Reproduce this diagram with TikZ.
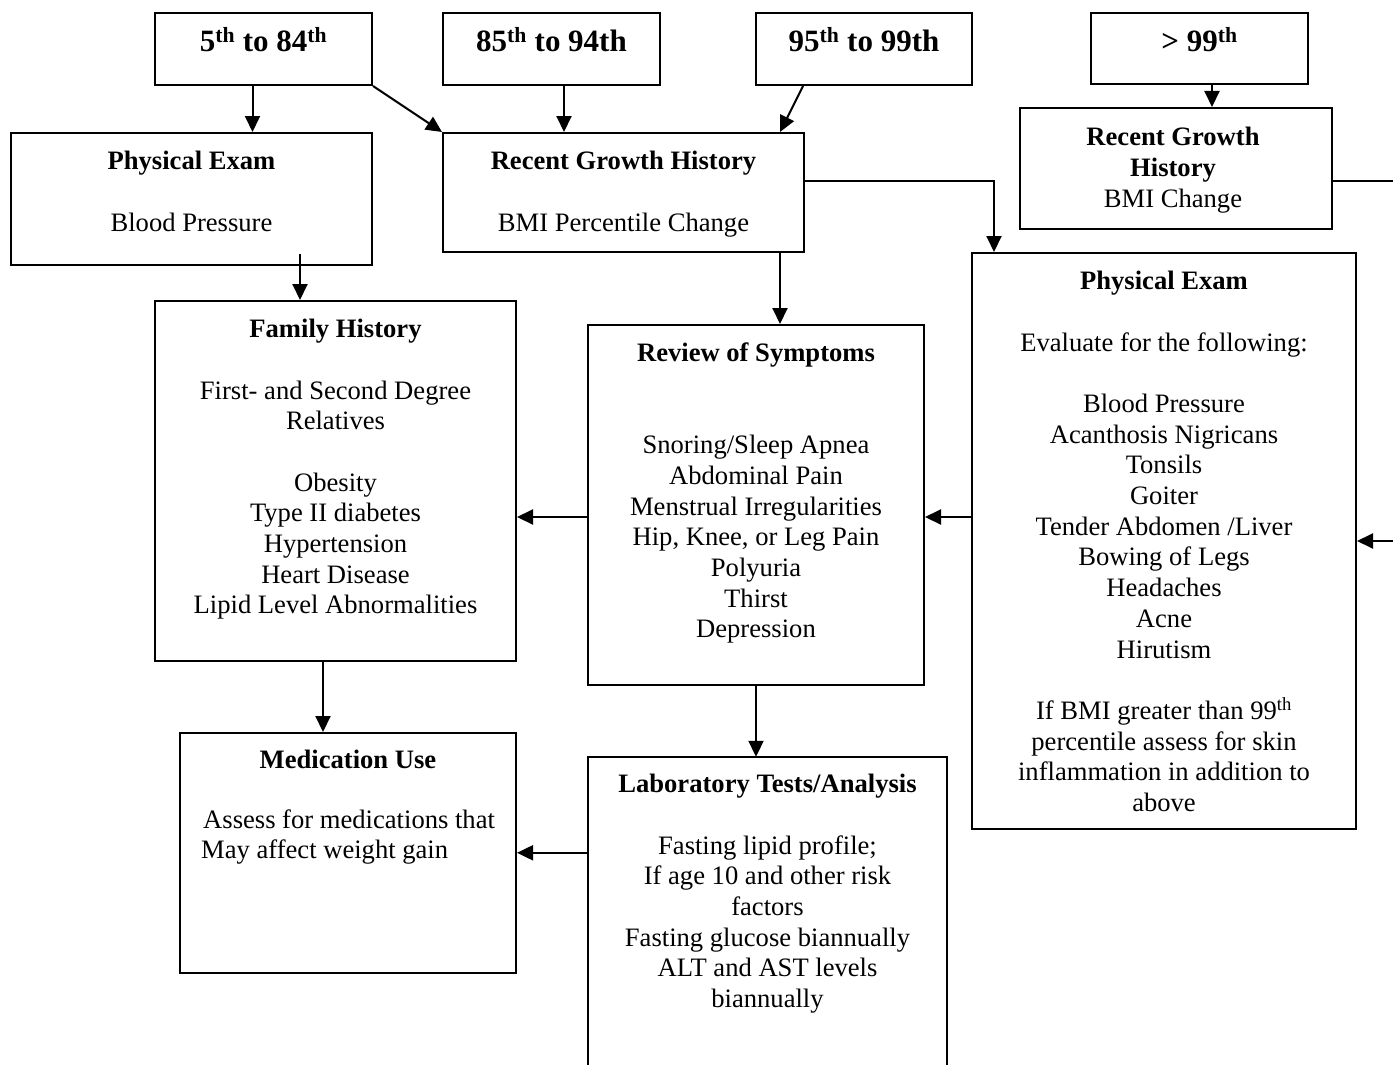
\documentclass[tikz,border=0pt]{standalone}
\usepackage{fontspec}
\setmainfont{Liberation Serif}
\usetikzlibrary{arrows.meta,calc}
\newcommand\bodyfont{\fontsize{26.6}{30.7}\selectfont}
\newcommand\topfont{\fontsize{31}{36}\selectfont\bfseries}
\newcommand\sth{\textsuperscript{th}}
\begin{document}
\begin{tikzpicture}[x=1pt,y=-1pt,
  box/.style={draw,line width=2pt,inner sep=0pt},
  openbox/.style={inner sep=0pt},
  txt/.style={inner sep=0pt,align=center,font=\bodyfont,anchor=north},
  toptxt/.style={inner sep=0pt,font=\topfont,anchor=base},
  arr/.style={line width=2pt,-{Triangle[length=16pt,width=15pt]}},
  ln/.style={line width=2pt}]
\useasboundingbox (0,0) rectangle (1393,1065);

% top range boxes
\node[box,minimum width=217,minimum height=72] (b1) at (263.5,49) {};
\node[box,minimum width=217,minimum height=72] (b2) at (551.5,49) {};
\node[box,minimum width=216,minimum height=72] (b3) at (864,49) {};
\node[box,minimum width=217,minimum height=71] (b4) at (1199.5,48.5) {};
\node[toptxt] (tb1) at (263.5,52) {5\sth{} to 84\sth};
\node[toptxt] (tb2) at (551.5,52) {85\sth{} to 94th};
\node[toptxt] (tb3) at (864,52) {95\sth{} to 99th};
\node[toptxt] (tb4) at (1199.5,52) {> 99\sth};

% boxes
\node[box,minimum width=361,minimum height=132] (pe1) at (191.5,199) {};
\node[box,minimum width=361,minimum height=119] (rgh) at (623.5,192.5) {};
\node[box,minimum width=312,minimum height=121] (rgh2) at (1176,168.5) {};
\node[box,minimum width=384,minimum height=576] (pe2) at (1164,541) {};
\node[box,minimum width=361,minimum height=360] (fh) at (335.5,481) {};
\node[box,minimum width=336,minimum height=360] (ros) at (756,505) {};
\node[box,minimum width=336,minimum height=240] (mu) at (348,853) {};
\node[openbox,minimum width=359,minimum height=318] (lab) at (767.5,916) {};
\draw[ln] (lab.south west) -- (lab.north west) -- (lab.north east) -- (lab.south east);

% texts
\node[txt] (tpe1) at (191.5,148) {\strut\textbf{Physical Exam}\\[30.7pt]Blood Pressure};
\node[txt] (trgh) at (623.5,148) {\strut\textbf{Recent Growth History}\\[30.7pt]BMI Percentile Change};
\node[txt] (trgh2) at (1173,124) {\strut\textbf{Recent Growth}\\\textbf{History}\\BMI Change};
\node[txt] (tpe2) at (1164,268) {\strut\textbf{Physical Exam}\\[30.7pt]Evaluate for the following:\\[30.7pt]
  Blood Pressure\\Acanthosis Nigricans\\Tonsils\\Goiter\\Tender Abdomen /Liver\\Bowing of Legs\\Headaches\\Acne\\Hirutism\\[30.7pt]
  If BMI greater than 99\sth\\percentile assess for skin\\inflammation in addition to\\above};
\node[txt] (tfh) at (335.5,316) {\strut\textbf{Family History}\\[30.7pt]First- and Second Degree\\Relatives\\[30.7pt]
  Obesity\\Type II diabetes\\Hypertension\\Heart Disease\\Lipid Level Abnormalities};
\node[txt] (tros) at (756,340) {\strut\textbf{Review of Symptoms}\\[61.4pt]Snoring/Sleep Apnea\\Abdominal Pain\\Menstrual Irregularities\\
  Hip, Knee, or Leg Pain\\Polyuria\\Thirst\\Depression};
\node[txt] (tmu) at (348,746.5) {\strut\textbf{Medication Use}};
\node[txt,align=left,anchor=north west] (tmu2) at (201,806.5) {\strut\hspace{2pt}Assess for medications that\\May affect weight gain};
\node[txt] (tlab) at (767.5,771) {\strut\textbf{Laboratory Tests/Analysis}\\[30.7pt]Fasting lipid profile;\\If age 10 and other risk\\factors\\
  Fasting glucose biannually\\ALT and AST levels\\biannually};

% connectors
\draw[arr] ([xshift=-11]b1.south) -- ([xshift=-11]b1.south |- pe1.north);
\draw[arr] (b1.south east) -- (rgh.north west);
\draw[arr] ([xshift=12.5]b2.south) -- ([xshift=12.5]b2.south |- rgh.north);
\draw[arr] ([xshift=48]b3.south west) -- ([xshift=-25]rgh.north east);
\draw[arr] ([xshift=12.5]b4.south) -- ([xshift=12.5]b4.south |- rgh2.north);
\draw[arr] ([yshift=11.5]rgh.east) -| ([xshift=23]pe2.north west);
\draw[arr] ([xshift=-25]rgh.south east) -- ([xshift=-25]rgh.south east |- ros.north);
\draw[arr] ([yshift=-12.5]rgh2.east) -- ++(64,0) |- (pe2.east);
\draw[arr] ([yshift=24]pe2.west) -- ([yshift=24]pe2.west -| ros.east);
\draw[arr] ([yshift=-12]ros.west) -- ([yshift=-12]ros.west -| fh.east);
\draw[arr] ([xshift=108.5,yshift=12]pe1.south) -- ([xshift=108.5]pe1.south |- fh.north);
\draw[arr] ([xshift=-12.5]fh.south) -- ([xshift=-12.5]fh.south |- mu.north);
\draw[arr] (ros.south) -- (ros.south |- lab.north);
\draw[arr] ([yshift=-96]lab.north west) -- ([yshift=-96]lab.north west -| mu.east);
\end{tikzpicture}
\end{document}
